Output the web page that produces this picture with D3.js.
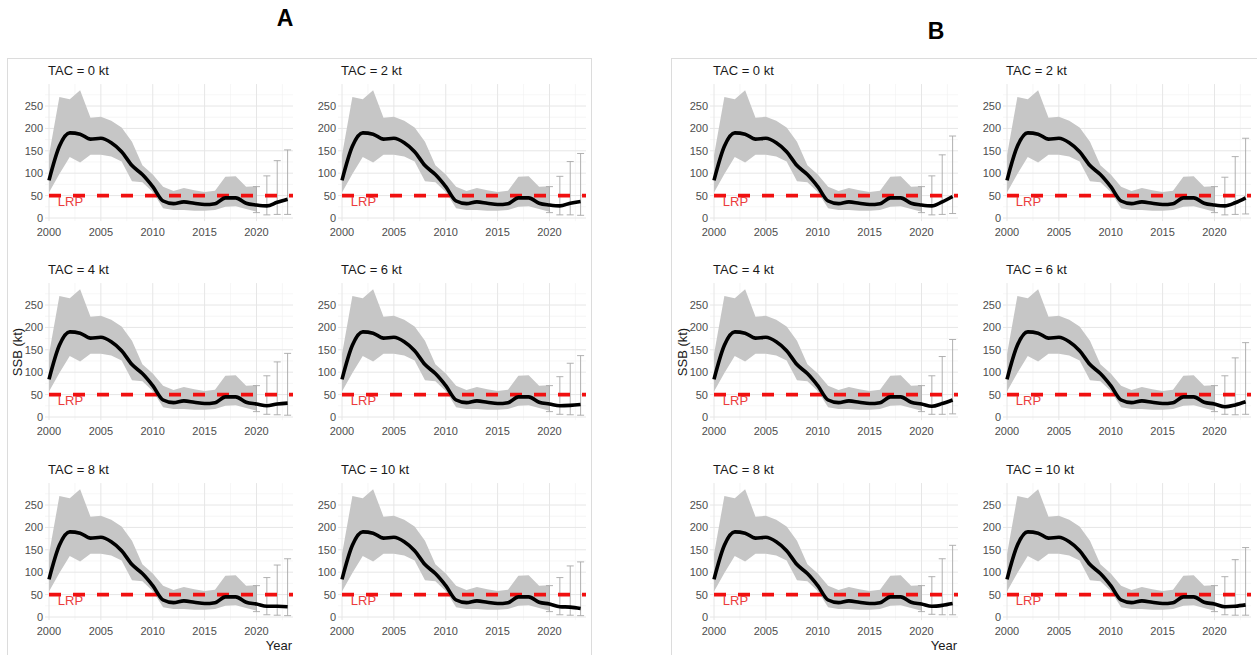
<!DOCTYPE html>
<html>
<head>
<meta charset="utf-8">
<script src="https://cdn.jsdelivr.net/npm/d3@7"></script>
<style>
  body { margin: 0; background: #fff; }
  svg { display: block; font-family: "Liberation Sans", Arial, sans-serif; }
</style>
</head>
<body>
<div id="chart"></div>
<script>
// ---- data ----
const histYears = [2000, 2001, 2002, 2003, 2004, 2005, 2006, 2007, 2008, 2009, 2010,
  2011, 2012, 2013, 2014, 2015, 2016, 2017, 2018, 2019, 2020];
const histSSB = [84, 160, 190, 187, 176, 178, 168, 148, 117, 97, 70,
  38, 32, 36, 33, 30, 32, 45, 45, 33, 29];
const histUpper = [140, 270, 265, 285, 224, 226, 217, 202, 170, 118, 97,
  70, 60, 67, 62, 58, 61, 92, 93, 70, 71];
const histLower = [57, 98, 136, 124, 141, 141, 137, 126, 82, 80, 58,
  22, 18, 18, 16, 16, 18, 25, 26, 20, 14];

const projYears = [2020, 2021, 2022, 2023];
const tacLabels = ['TAC = 0 kt', 'TAC = 2 kt', 'TAC = 4 kt', 'TAC = 6 kt', 'TAC = 8 kt', 'TAC = 10 kt'];

// figure A projections (one row per TAC)
const projSSB_A = [
  [29, 27, 35, 42], [29, 27, 33, 37], [29, 25, 29, 31],
  [29, 25, 26, 28], [29, 24, 24, 23], [29, 23, 22, 19]];
const projUpper_A = [
  [70, 94, 128, 152], [70, 93, 126, 144], [70, 92, 123, 142],
  [70, 90, 120, 137], [70, 88, 116, 130], [70, 88, 114, 123]];
const projLower_A = [
  [12, 7, 8, 8], [12, 7, 7, 6], [12, 6, 5, 4],
  [12, 6, 5, 4], [12, 5, 4, 3], [12, 5, 4, 3]];

// figure B projections
const projSSB_B = [
  [29, 27, 36, 48], [29, 27, 34, 45], [29, 24, 30, 38],
  [29, 23, 27, 34], [29, 24, 26, 30], [29, 23, 24, 27]];
const projUpper_B = [
  [70, 94, 141, 183], [70, 91, 137, 178], [70, 92, 135, 173],
  [70, 92, 132, 166], [70, 90, 130, 160], [70, 90, 128, 155]];
const projLower_B = [
  [12, 7, 8, 10], [12, 7, 8, 9], [12, 6, 6, 7],
  [12, 6, 5, 6], [12, 6, 5, 5], [12, 5, 4, 4]];

const LRP = 50;
const xTicks = [2000, 2005, 2010, 2015, 2020];
const xMinor = [2002.5, 2007.5, 2012.5, 2017.5, 2022.5];
const yTicks = [0, 50, 100, 150, 200, 250];
const yMinor = [25, 75, 125, 175, 225, 275];

// ---- layout ----
const W = 1257, H = 655;
const figures = [
  { letter: 'A', dx: 0, letterX: 285, letterY: 26, frameX: 7, frameW: 584, ssb: projSSB_A, up: projUpper_A, lo: projLower_A },
  { letter: 'B', dx: 665, letterX: 936, letterY: 39, frameX: 671, frameW: 590, ssb: projSSB_B, up: projUpper_B, lo: projLower_B }
];
const colLeft = [45, 338];
const plotW = 248;
const rowZero = [218, 417, 617];
const pxPerUnit = 0.448;

const svg = d3.select('#chart').append('svg')
  .attr('width', W)
  .attr('height', H);

figures.forEach(fig => {
  const gf = svg.append('g').attr('transform', `translate(${fig.dx},0)`);

  svg.append('rect')
    .attr('x', fig.frameX + 0.5)
    .attr('y', 58.5)
    .attr('width', fig.frameW)
    .attr('height', 620)
    .attr('fill', 'none')
    .attr('stroke', '#dcdcdc');

  svg.append('text')
    .attr('x', fig.letterX)
    .attr('y', fig.letterY)
    .attr('text-anchor', 'middle')
    .attr('font-size', 23)
    .attr('font-weight', 'bold')
    .attr('fill', '#000')
    .text(fig.letter);

  tacLabels.forEach((lab, i) => {
    const col = i % 2, row = Math.floor(i / 2);
    const left = colLeft[col];
    const zero = rowZero[row];

    const x = d3.scaleLinear().domain([1999.614, 2023.52]).range([left, left + plotW]);
    const y = d3.scaleLinear().domain([0, 250]).range([zero, zero - 250 * pxPerUnit]);
    const top = y(299), bottom = y(-7);

    const g = gf.append('g');

    // grid
    g.selectAll('.ymin').data(yMinor).join('line')
      .attr('x1', left).attr('x2', left + plotW)
      .attr('y1', d => y(d)).attr('y2', d => y(d))
      .attr('stroke', '#f0f0f0').attr('stroke-width', 0.6);
    g.selectAll('.xmin').data(xMinor).join('line')
      .attr('y1', top).attr('y2', bottom)
      .attr('x1', d => x(d)).attr('x2', d => x(d))
      .attr('stroke', '#f0f0f0').attr('stroke-width', 0.6);
    g.append('g').selectAll('line').data(yTicks).join('line')
      .attr('x1', left).attr('x2', left + plotW)
      .attr('y1', d => y(d)).attr('y2', d => y(d))
      .attr('stroke', '#e6e6e6').attr('stroke-width', 1);
    g.append('g').selectAll('line').data(xTicks).join('line')
      .attr('y1', top).attr('y2', bottom)
      .attr('x1', d => x(d)).attr('x2', d => x(d))
      .attr('stroke', '#e6e6e6').attr('stroke-width', 1);

    // ribbon
    const band = histYears.map((yr, k) => ({ yr, lo: histLower[k], hi: histUpper[k] }));
    g.append('path')
      .datum(band)
      .attr('fill', '#c6c6c6')
      .attr('d', d3.area().x(d => x(d.yr)).y0(d => y(d.lo)).y1(d => y(d.hi)));

    // error bars for projections
    const bars = projYears.map((yr, k) => ({ yr, lo: fig.lo[i][k], hi: fig.up[i][k] }));
    const eb = g.append('g').attr('stroke', '#a8a8a8').attr('stroke-width', 0.9);
    eb.selectAll('.v').data(bars).join('line')
      .attr('x1', d => x(d.yr)).attr('x2', d => x(d.yr))
      .attr('y1', d => y(d.lo)).attr('y2', d => y(d.hi));
    eb.selectAll('.t').data(bars).join('line')
      .attr('x1', d => x(d.yr) - 3.5).attr('x2', d => x(d.yr) + 3.5)
      .attr('y1', d => y(d.hi)).attr('y2', d => y(d.hi));
    eb.selectAll('.b').data(bars).join('line')
      .attr('x1', d => x(d.yr) - 3.5).attr('x2', d => x(d.yr) + 3.5)
      .attr('y1', d => y(d.lo)).attr('y2', d => y(d.lo));

    // LRP line + label
    g.append('line')
      .attr('x1', left).attr('x2', left + plotW)
      .attr('y1', y(LRP)).attr('y2', y(LRP))
      .attr('stroke', '#f01010')
      .attr('stroke-width', 3.6)
      .attr('stroke-dasharray', '12,12')
      .attr('stroke-dashoffset', 20);
    g.append('text')
      .attr('x', x(2000.85))
      .attr('y', y(LRP) + 10)
      .attr('font-size', 13)
      .attr('fill', '#eb3d3d')
      .text('LRP');

    // SSB line
    const pts = histYears.map((yr, k) => ({ yr, v: histSSB[k] }))
      .concat(projYears.slice(1).map((yr, k) => ({ yr, v: fig.ssb[i][k + 1] })));
    g.append('path')
      .datum(pts)
      .attr('fill', 'none')
      .attr('stroke', '#000')
      .attr('stroke-width', 3.6)
      .attr('stroke-linejoin', 'round')
      .attr('d', d3.line().x(d => x(d.yr)).y(d => y(d.v)).curve(d3.curveMonotoneX));

    // axes labels
    g.append('g').selectAll('text').data(yTicks).join('text')
      .attr('x', left - 2)
      .attr('y', d => y(d) + 4)
      .attr('text-anchor', 'end')
      .attr('font-size', 11)
      .attr('fill', '#4d4d4d')
      .text(d => d);
    g.append('g').selectAll('text').data(xTicks).join('text')
      .attr('x', d => x(d))
      .attr('y', zero + 18)
      .attr('text-anchor', 'middle')
      .attr('font-size', 11)
      .attr('fill', '#4d4d4d')
      .text(d => d);

    // panel title
    g.append('text')
      .attr('x', left + 3)
      .attr('y', top - 9)
      .attr('font-size', 13)
      .attr('fill', '#1a1a1a')
      .text(lab);
  });

  gf.append('text')
    .attr('transform', 'translate(22,352) rotate(-90)')
    .attr('text-anchor', 'middle')
    .attr('font-size', 13)
    .attr('fill', '#1a1a1a')
    .text('SSB (kt)');
  gf.append('text')
    .attr('x', 292)
    .attr('y', 650)
    .attr('text-anchor', 'end')
    .attr('font-size', 13)
    .attr('fill', '#1a1a1a')
    .text('Year');
});
</script>
</body>
</html>
